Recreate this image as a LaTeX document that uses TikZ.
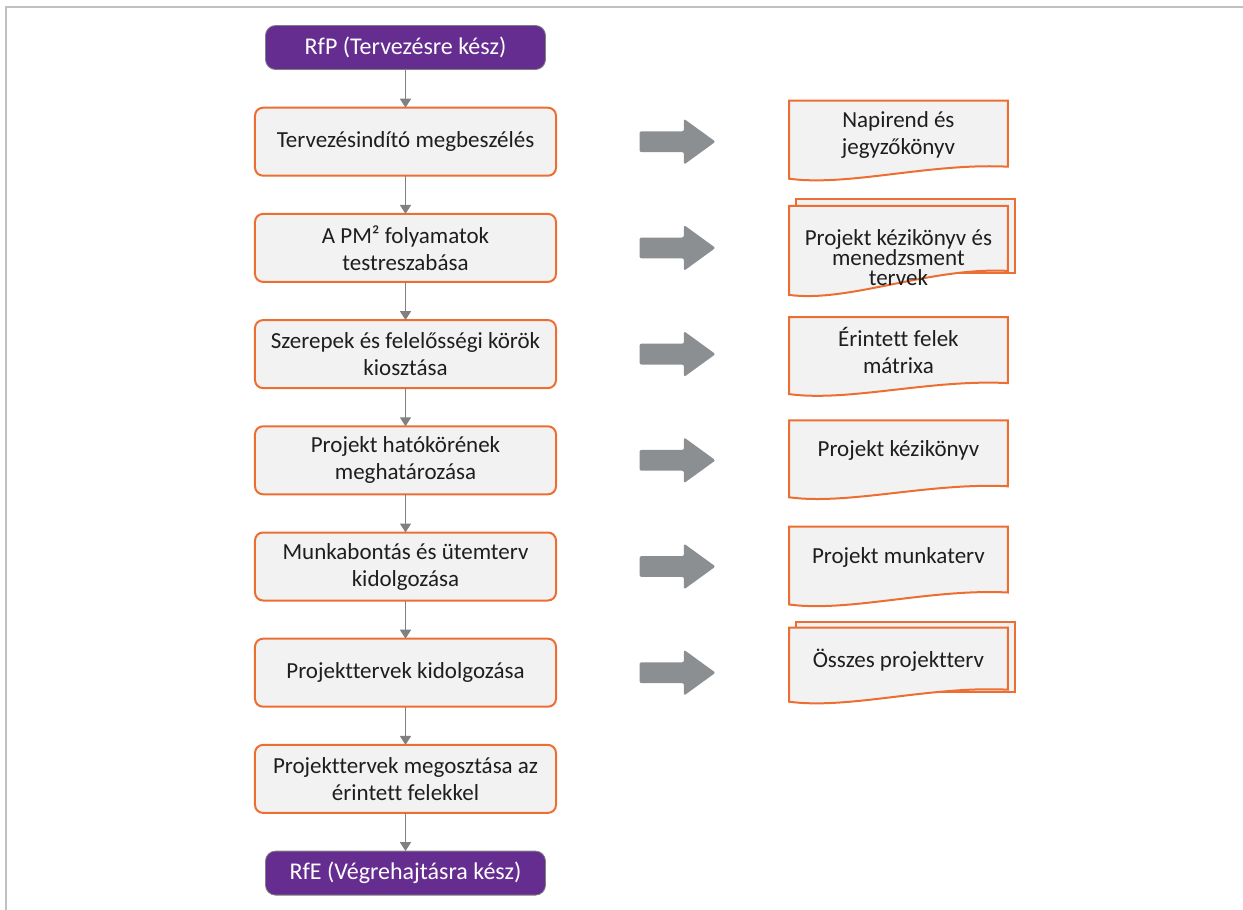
\documentclass[tikz,border=0pt]{standalone}
\usepackage{fontspec}
\setmainfont{Carlito}[Ligatures=CommonOff]
\usepackage{tikz}
\usetikzlibrary{positioning,shapes.arrows,arrows.meta,backgrounds}

\definecolor{pmpurple}{RGB}{102,45,145}
\definecolor{pmorange}{RGB}{237,110,50}
\definecolor{boxfill}{RGB}{242,242,242}
\definecolor{arrowgray}{RGB}{140,143,146}
\definecolor{linegray}{RGB}{128,128,128}
\definecolor{framegray}{RGB}{192,192,192}
\definecolor{textdark}{RGB}{30,30,30}

% document outline round node #1: top, right bottom, left bottom (from its centre)
\newcommand{\docshape}[4]{%
  \draw [docline] ([yshift=#2]#1.west) -- ([yshift=#2]#1.east)
    -- ([yshift=#3]#1.east)
    .. controls +(-39pt,2pt) and +(30pt,-4pt) .. ([yshift=#4]#1.west) -- cycle;}
% second sheet behind a stacked document
\newcommand{\docback}[3]{%
  \draw [docline] ([xshift=3.5pt,yshift=#2]#1.west) rectangle ([xshift=3.5pt,yshift=#3]#1.east);}

\begin{document}
\begin{tikzpicture}
    [ node distance = 19.1pt
    , font = \fontsize{11.5}{13.5}\selectfont
    , gate/.style =
      { draw = linegray, fill = pmpurple, text = white, rounded corners = 5pt
      , font = \fontsize{12}{14}\selectfont
      , minimum width = 140pt, minimum height = 22pt, inner sep = 0pt, outer sep = 0pt }
    , stepbox/.style =
      { draw = pmorange, line width = 1pt, fill = boxfill, text = textdark
      , rounded corners = 4pt, align = center
      , minimum width = 150.5pt, minimum height = 34pt, inner sep = 0pt, outer sep = 0pt }
    , flow/.style =
      { draw = linegray, line width = .8pt, -{Triangle[width=5.5pt,length=4.5pt]} }
    , bigarrow/.style =
      { single arrow, fill = arrowgray, minimum height = 38pt, inner sep = 5pt
      , single arrow head extend = 6.25pt, single arrow tip angle = 72
      , rounded corners = 1pt, outer sep = 0pt }
    , docnode/.style =
      { text = textdark, align = center, minimum width = 109pt, inner sep = 0pt }
    , docline/.style =
      { draw = pmorange, line width = 1pt, fill = boxfill }
    ]
    \useasboundingbox (-202.75pt,-431.25pt) rectangle (418.75pt,23.75pt);
    \draw [framegray, line width = 1pt] (-199.75pt,-431.25pt) -- (-199.75pt,20.25pt) -- (418.75pt,20.25pt);

    \node [gate] (rfp) at (0,0) {RfP (Tervezésre kész)};
    \node [stepbox] (p1) [below=of rfp] {Tervezésindító megbeszélés};
    \node [stepbox] (p2) [below=of p1] {A PM² folyamatok\\testreszabása};
    \node [stepbox] (p3) [below=of p2] {Szerepek és felelősségi körök\\kiosztása};
    \node [stepbox] (p4) [below=of p3] {Projekt hatókörének\\meghatározása};
    \node [stepbox] (p5) [below=of p4] {Munkabontás és ütemterv\\kidolgozása};
    \node [stepbox] (p6) [below=of p5] {Projekttervek kidolgozása};
    \node [stepbox] (p7) [below=of p6] {Projekttervek megosztása az\\érintett felekkel};
    \node [gate] (rfe) [below=of p7] {RfE (Végrehajtásra kész)};

    \draw [flow] (rfp) -- (p1);
    \draw [flow] (p1) -- (p2);
    \draw [flow] (p2) -- (p3);
    \draw [flow] (p3) -- (p4);
    \draw [flow] (p4) -- (p5);
    \draw [flow] (p5) -- (p6);
    \draw [flow] (p6) -- (p7);
    \draw [flow] (p7) -- (rfe);

    \node [bigarrow] (a1) [right=41.75pt of p1] {};
    \node [bigarrow] (a2) [right=41.75pt of p2] {};
    \node [bigarrow] (a3) [right=41.75pt of p3] {};
    \node [bigarrow] (a4) [right=41.75pt of p4] {};
    \node [bigarrow] (a5) [right=41.75pt of p5] {};
    \node [bigarrow] (a6) [right=41.75pt of p6] {};

    \node [docnode] (d1) [right=36.75pt of a1, yshift=3.5pt] {Napirend és\\jegyzőkönyv};
    \node [docnode, font=\fontsize{11.5}{10}\selectfont] (d2) [right=36.75pt of a2, yshift=-5pt]
      {Projekt kézikönyv és\\menedzsment\\tervek};
    \node [docnode] (d3) [right=36.75pt of a3, yshift=2pt] {Érintett felek\\mátrixa};
    \node [docnode] (d4) [right=36.75pt of a4, yshift=5pt] {Projekt kézikönyv};
    \node [docnode] (d5) [right=36.75pt of a5, yshift=4.5pt] {Projekt munkaterv};
    \node [docnode] (d6) [right=36.75pt of a6, yshift=6pt] {Összes projektterv};

    \begin{scope}[on background layer]
      \docshape{d1}{17pt}{-16pt}{-22pt}
      \docback{d2}{29.5pt}{-7.5pt}
      \docshape{d2}{26pt}{-6.5pt}{-18.5pt}
      \docshape{d3}{16.5pt}{-16.5pt}{-22pt}
      \docshape{d4}{15pt}{-18pt}{-23.5pt}
      \docshape{d5}{15.5pt}{-17.5pt}{-23.5pt}
      \docback{d6}{19.5pt}{-15.5pt}
      \docshape{d6}{16.5pt}{-14.5pt}{-20.5pt}
    \end{scope}
\end{tikzpicture}
\end{document}
